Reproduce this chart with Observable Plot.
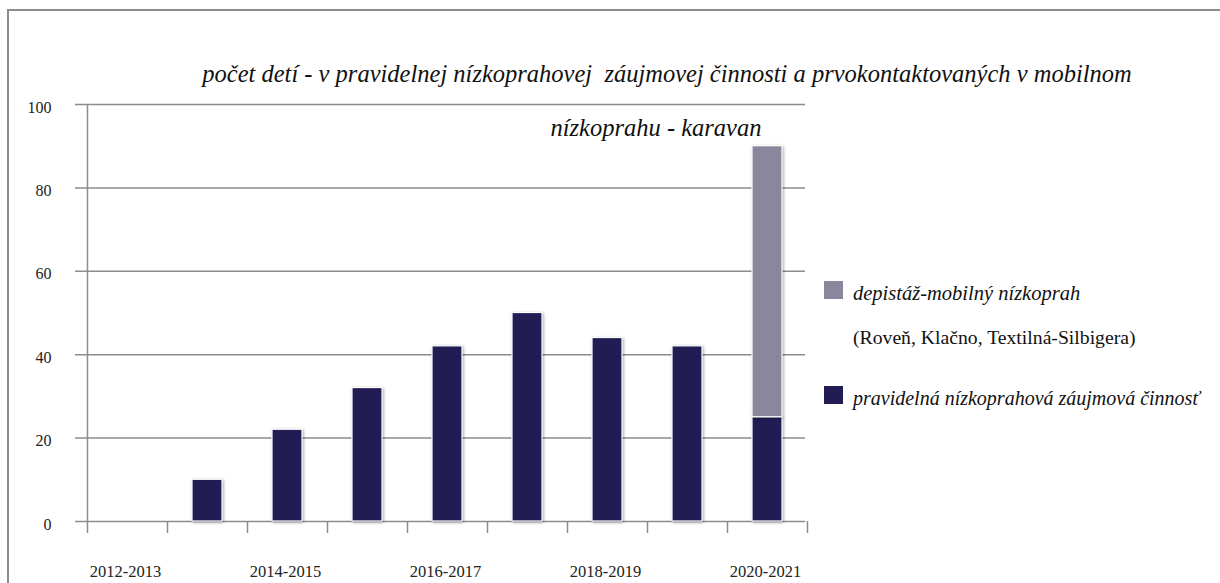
<!DOCTYPE html>
<html><head><meta charset="utf-8">
<script src="https://cdn.jsdelivr.net/npm/d3@7"></script>
<script src="https://cdn.jsdelivr.net/npm/@observablehq/plot@0.6"></script>
<style>
html,body{margin:0;padding:0;overflow:hidden;background:#fff}
#wrap{position:relative;width:1220px;height:583px;overflow:hidden}
#frame{position:absolute;left:7px;top:9px;width:1400px;height:800px;border:2px solid #8c8c8c;box-sizing:border-box;pointer-events:none}
.t{position:absolute;font-family:"Liberation Serif",serif;font-style:italic;color:#111;white-space:nowrap;line-height:1}
.sw{position:absolute;width:19px;height:18px}
#chart{position:absolute;left:0;top:0}
</style>
</head><body>
<div id="wrap">
  <div id="chart"></div>
  <div id="frame"></div>
  <div class="t" id="title1" style="font-size:24.5px;top:62px;left:667px;transform:translateX(-50%)">počet detí - v pravidelnej nízkoprahovej&nbsp; záujmovej činnosti a prvokontaktovaných v mobilnom</div>
  <div class="t" id="title2" style="font-size:24.5px;top:116px;left:656px;transform:translateX(-50%)">nízkoprahu - karavan</div>
  <div class="sw" style="left:824px;top:281px;background:#8a879c"></div>
  <div class="t" style="font-size:20.5px;left:853px;top:283px">depistáž-mobilný nízkoprah</div>
  <div class="t" style="font-size:19.7px;left:853px;top:328px;font-style:normal">(Roveň, Klačno, Textilná-Silbigera)</div>
  <div class="sw" style="left:824px;top:386px;background:#221c55"></div>
  <div class="t" style="font-size:20px;left:853px;top:388px">pravidelná nízkoprahová záujmová činnosť</div>
</div>
<script>
const seasons = ["2012-2013","2013-2014","2014-2015","2015-2016","2016-2017","2017-2018","2018-2019","2019-2020","2020-2021"];
const pravidelna = [0,10,22,32,42,50,44,42,25];
const depistaz = [0,0,0,0,0,0,0,0,65];
const yTicks = [0,20,40,60,80,100];
const xLabels = ["2012-2013","2014-2015","2016-2017","2018-2019","2020-2021"];
const colors = {pravidelna:"#221c55", depistaz:"#8a879c"};

const rows = [];
seasons.forEach((s,i)=>{
  rows.push({season:s, i, series:"pravidelna", y1:0, y2:pravidelna[i]});
  rows.push({season:s, i, series:"depistaz", y1:pravidelna[i], y2:pravidelna[i]+depistaz[i]});
});
const bars = rows.filter(d=>d.y2>d.y1);
const boundaries = d3.range(seasons.length+1);
const labelRows = xLabels.map(l=>({label:l, i:seasons.indexOf(l)}));
const axisColor = "#8c8c8c";

const chart = Plot.plot({
  width:1220, height:583,
  marginLeft:87, marginRight:413, marginTop:104, marginBottom:62,
  x:{type:"linear", domain:[0,seasons.length], axis:null},
  y:{domain:[0,100], axis:null},
  style:{fontFamily:"'Liberation Serif', serif", background:"transparent"},
  marks:[
    Plot.ruleY(yTicks, {y:d=>d, stroke:axisColor, strokeWidth:1.5, insetLeft:-12, insetRight:2}),
    Plot.ruleX([0], {x:d=>d, y1:0, y2:100, stroke:axisColor, strokeWidth:1.5}),
    Plot.ruleX(boundaries, {x:d=>d, y1:0, y2:0, insetBottom:-12, stroke:axisColor, strokeWidth:1.5}),
    Plot.rectY(bars, {x1:d=>d.i, x2:d=>d.i+1, y1:"y1", y2:"y2", insetLeft:25, insetRight:25,
      fill:d=>colors[d.series], stroke:"white", strokeWidth:1.2}),
    Plot.text(yTicks, {x:0, y:d=>d, text:d=>String(d), textAnchor:"end", dx:-36, dy:3, fontSize:16, fill:"#222"}),
    Plot.text(labelRows, {x:d=>d.i+0.5, y:0, text:"label", dx:-2, dy:50, fontSize:16.5, fill:"#222"})
  ]
});
d3.select(chart).selectAll("rect").style("filter","drop-shadow(1px 1px 1.5px rgba(0,0,0,0.35))");
document.getElementById("chart").appendChild(chart);
</script>
</body></html>
